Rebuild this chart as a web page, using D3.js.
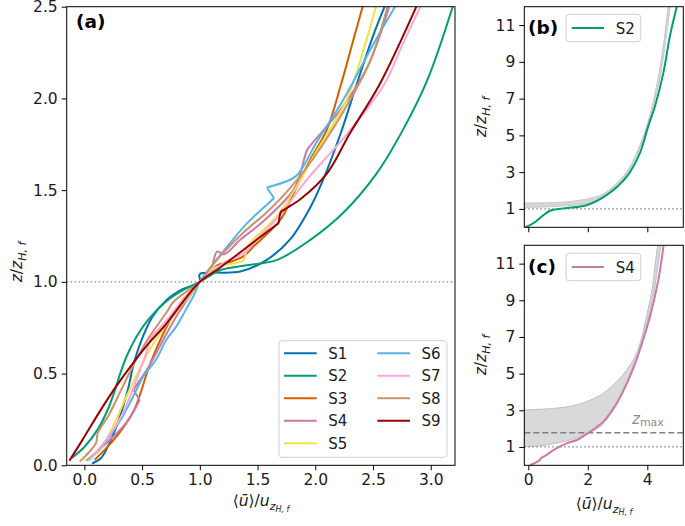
<!DOCTYPE html>
<html><head><meta charset="utf-8">
<script src="https://cdn.jsdelivr.net/npm/d3@7"></script>
<style>body{margin:0;background:#fff}svg{display:block}</style>
</head><body><svg id="c" width="685" height="526"></svg>
<script>
// ---------------- data ----------------
const seriesNames = ["S1","S2","S3","S4","S5","S6","S7","S8","S9"];
const seriesColors = ["#0072B2","#009E73","#D55E00","#CC79A7","#F0E442","#56B4E9","#FBA6DA","#C9926A","#990000"];

const s1U = [0.067,0.145,0.217,0.30,0.376,0.434,0.506,0.59,0.71,0.85,1.0,0.995,1.005,1.12,1.35,1.58,1.78,1.96,2.07,2.22,2.36,2.50,2.60];
const s1Z = [0.01,0.04,0.12,0.25,0.41,0.57,0.70,0.81,0.90,0.96,1.0,1.035,1.045,1.05,1.056,1.12,1.23,1.41,1.56,1.81,2.08,2.34,2.5];
const s2U = [-0.11,0.0,0.12,0.2,0.26,0.31,0.37,0.45,0.56,0.72,0.84,1.0,1.18,1.41,1.67,1.96,2.24,2.53,2.76,2.97,3.19];
const s2Z = [0.04,0.1,0.2,0.3,0.4,0.5,0.6,0.7,0.8,0.9,0.95,1.0,1.065,1.09,1.12,1.23,1.375,1.59,1.83,2.10,2.5];
const s3U = [0.09,0.2,0.33,0.43,0.49,0.54,0.6,0.67,0.75,0.85,1.0,1.15,1.27,1.38,1.46,1.70,1.81,1.96,2.10,2.22,2.33,2.41];
const s3Z = [0.03,0.1,0.2,0.3,0.4,0.5,0.6,0.7,0.8,0.9,1.0,1.09,1.11,1.14,1.19,1.34,1.48,1.67,1.83,2.07,2.32,2.5];
const s4U = [0.03,0.19,0.36,0.47,0.477,0.43,0.44,0.56,0.68,0.795,0.91,1.0,1.1,1.15,1.21,1.35,1.55,1.81,1.87,1.93,1.98,2.22,2.45,2.64];
const s4Z = [0.03,0.12,0.23,0.345,0.356,0.41,0.425,0.54,0.68,0.81,0.92,1.0,1.08,1.165,1.15,1.23,1.33,1.50,1.59,1.72,1.76,1.94,2.17,2.5];
const s5U = [0.0,0.13,0.275,0.35,0.46,0.565,0.68,0.79,0.90,1.0,1.12,1.38,1.41,1.67,1.84,1.98,2.27,2.42,2.525];
const s5Z = [0.025,0.08,0.25,0.356,0.50,0.63,0.74,0.83,0.92,1.0,1.075,1.12,1.19,1.36,1.52,1.68,1.99,2.27,2.5];
const s6U = [0.02,0.12,0.217,0.33,0.45,0.506,0.62,0.71,0.795,0.88,0.95,1.0,1.12,1.26,1.41,1.62,1.64,1.63,1.585,1.60,1.83,2.01,2.24,2.48,2.69];
const s6Z = [0.025,0.08,0.156,0.265,0.41,0.48,0.575,0.684,0.756,0.85,0.93,1.0,1.1,1.21,1.32,1.444,1.457,1.468,1.515,1.518,1.575,1.76,1.99,2.27,2.5];
const s7U = [0.04,0.19,0.33,0.45,0.535,0.58,0.64,0.74,0.85,1.0,1.20,1.41,1.5,1.57,1.70,1.93,2.28,2.60,2.76,2.91];
const s7Z = [0.025,0.14,0.28,0.465,0.61,0.70,0.74,0.81,0.90,1.0,1.10,1.17,1.24,1.28,1.37,1.56,1.81,2.08,2.30,2.5];
const s8U = [-0.04,0.10,0.116,0.217,0.333,0.448,0.563,0.708,0.77,0.89,1.0,1.12,1.38,1.58,1.78,1.98,2.30,2.48,2.625];
const s8Z = [0.02,0.12,0.175,0.28,0.43,0.575,0.70,0.83,0.89,0.95,1.0,1.10,1.27,1.38,1.51,1.67,1.99,2.21,2.5];
const s9U = [-0.13,-0.015,0.13,0.275,0.42,0.564,0.708,0.853,1.0,1.18,1.41,1.66,1.68,1.70,1.72,1.87,2.1,2.30,2.56,2.875];
const s9Z = [0.025,0.14,0.29,0.43,0.556,0.67,0.77,0.89,1.0,1.08,1.19,1.31,1.32,1.38,1.39,1.45,1.59,1.81,2.08,2.5];

// panel (b): S2 full profile and grey envelope
const bS2U = [-0.1,0.17,0.45,0.73,1.18,1.96,2.64,3.31,3.75,4.03,4.26,4.54,4.76,4.99];
const bS2Z = [0.0,0.22,0.58,0.9,1.03,1.2,1.76,2.76,4.04,5.49,6.6,8.4,10.4,12];
const bBandUpU = [-0.14,0.5,1.0,1.5,2.0,2.5,2.9,3.3,3.6,3.9,4.15,4.35,4.55,4.7];
const bBandUpZ = [1.32,1.33,1.36,1.42,1.55,1.8,2.3,3.0,3.9,5.1,6.5,8.0,10.0,12.1];
const bBandLoU = [-0.14,0.5,1.0,1.5,2.0,2.5,2.9,3.3,3.6,3.9,4.15,4.4,4.6,4.78];
const bBandLoZ = [1.08,1.1,1.14,1.2,1.3,1.62,2.15,2.85,3.75,4.95,6.3,7.9,9.9,12.1];

// panel (c): S4 full profile and grey envelope
const cS4U = [0.06,0.25,0.39,0.42,0.6,0.84,1.29,1.63,2.07,2.52,2.97,3.31,3.59,3.75,4.09,4.37,4.54,4.56];
const cS4Z = [0.02,0.15,0.29,0.38,0.55,0.83,1.2,1.38,1.83,2.38,3.38,4.47,5.56,6.29,8.1,10.1,11.9,12.1];
const cBandUpU = [-0.14,0.84,1.5,1.96,2.52,2.97,3.31,3.59,3.8,3.92,4.15,4.32,4.36];
const cBandUpZ = [3.02,3.1,3.25,3.47,3.93,4.56,5.2,5.93,6.9,7.75,9.5,11.7,12.1];
const cBandLoU = [-0.14,0.5,0.84,1.4,1.96,2.41,2.97,3.31,3.59,3.8,4.0,4.2,4.35,4.46];
const cBandLoZ = [1.02,1.08,1.18,1.38,1.72,2.1,3.3,4.4,5.5,6.6,7.8,9.2,10.8,12.1];
const zMax = 1.78;
const zRef = 1.0;

const aXTicks = [0,0.5,1.0,1.5,2.0,2.5,3.0];
const aYTicks = [0,0.5,1.0,1.5,2.0,2.5];
const bcXTicks = [0,2,4];
const bcYTicks = [1,3,5,7,9,11];

// ---------------- drawing ----------------
const FONT = "'DejaVu Sans', sans-serif";
const svg = d3.select("#c");
const zip = (u, z) => u.map((v, i) => [v, z[i]]);
const seriesU = [s1U,s2U,s3U,s4U,s5U,s6U,s7U,s8U,s9U];
const seriesZ = [s1Z,s2Z,s3Z,s4Z,s5Z,s6Z,s7Z,s8Z,s9Z];
const smooth = d3.curveCatmullRom.alpha(0.5);

function panel(id, box, xdom, ydom, xticks, yticks, xfmt, yfmt, showXLabels) {
  const x = d3.scaleLinear().domain(xdom).range([box.l, box.r]);
  const y = d3.scaleLinear().domain(ydom).range([box.b, box.t]);
  svg.append("defs").append("clipPath").attr("id", "clip" + id)
    .append("rect").attr("x", box.l).attr("y", box.t).attr("width", box.r - box.l).attr("height", box.b - box.t);
  const g = svg.append("g");
  const plot = g.append("g").attr("clip-path", `url(#clip${id})`);
  const xa = d3.axisBottom(x).tickValues(xticks).tickSize(5).tickPadding(4)
    .tickFormat(showXLabels ? xfmt : () => "");
  const ya = d3.axisLeft(y).tickValues(yticks).tickSize(5).tickPadding(4).tickFormat(yfmt);
  const gx = g.append("g").attr("transform", `translate(0,${box.b})`).call(xa);
  const gy = g.append("g").attr("transform", `translate(${box.l},0)`).call(ya);
  [gx, gy].forEach(a => {
    a.select(".domain").remove();
    a.selectAll("line").attr("stroke", "#000").attr("stroke-width", 1);
    a.selectAll("text").attr("font-family", FONT).attr("font-size", 15.5).attr("fill", "#1a1a1a");
  });
  return {x, y, g, plot, box};
}
function frame(p) {
  p.g.append("rect").attr("x", p.box.l).attr("y", p.box.t)
    .attr("width", p.box.r - p.box.l).attr("height", p.box.b - p.box.t)
    .attr("fill", "none").attr("stroke", "#000").attr("stroke-width", 1);
}
function hline(p, z, dash, color, w) {
  p.plot.append("line").attr("x1", p.box.l).attr("x2", p.box.r)
    .attr("y1", p.y(z)).attr("y2", p.y(z))
    .attr("stroke", color).attr("stroke-width", w).attr("stroke-dasharray", dash);
}
function curve(p, pts, color, w) {
  const line = d3.line().x(d => p.x(d[0])).y(d => p.y(d[1])).curve(smooth);
  p.plot.append("path").attr("d", line(pts)).attr("fill", "none")
    .attr("stroke", color).attr("stroke-width", w)
    .attr("stroke-linejoin", "round").attr("stroke-linecap", "butt");
}
function band(p, up, lo, fill, stroke) {
  const line = d3.line().x(d => p.x(d[0])).y(d => p.y(d[1])).curve(smooth);
  const dUp = line(up);
  const dLo = line(lo.slice().reverse()).replace(/^M/, "L");
  p.plot.append("path").attr("d", dUp + dLo + "Z").attr("fill", fill)
    .attr("stroke", stroke).attr("stroke-width", 1);
}
function legend(p, x0, y0, w, h) {
  p.g.append("rect").attr("x", x0).attr("y", y0).attr("width", w).attr("height", h)
    .attr("rx", 3).attr("fill", "#fff").attr("fill-opacity", 0.85)
    .attr("stroke", "#d0d0d0").attr("stroke-width", 1);
}
function ylabel(cx, cy) {
  const t = svg.append("text").attr("transform", `translate(${cx},${cy}) rotate(-90)`)
    .attr("text-anchor", "middle").attr("font-family", FONT).attr("font-size", 15.5).attr("fill", "#1a1a1a");
  t.append("tspan").attr("font-style", "italic").text("z");
  t.append("tspan").text("/");
  t.append("tspan").attr("font-style", "italic").text("z");
  t.append("tspan").attr("font-style", "italic").attr("font-size", 11).attr("dy", 3.5).text("H, f");
}
function xlabel(cx, cy) {
  const t = svg.append("text").attr("x", cx).attr("y", cy)
    .attr("text-anchor", "middle").attr("font-family", FONT).attr("font-size", 15.5).attr("fill", "#1a1a1a");
  t.append("tspan").text("\u27E8");
  t.append("tspan").attr("font-style", "italic").text("\u016B");
  t.append("tspan").text("\u27E9/");
  t.append("tspan").attr("font-style", "italic").text("u");
  t.append("tspan").attr("font-style", "italic").attr("font-size", 11).attr("dy", 3.5).text("z");
  t.append("tspan").attr("font-style", "italic").attr("font-size", 8).attr("dy", 2.5).text("H, f");
}
function tag(p, txt, x, y) {
  p.g.append("text").attr("x", x).attr("y", y).attr("font-family", FONT)
    .attr("font-weight", "bold").attr("font-size", 18.5).attr("fill", "#000").text(txt);
}

// ----- panel (a)
const fmt1 = d3.format(".1f");
const A = panel("a", {l: 66.7, r: 455, t: 6.7, b: 465.3}, [-0.153, 3.21], [0, 2.5],
  aXTicks, aYTicks, fmt1, fmt1, true);
hline(A, zRef, "1.5,2.5", "#808080", 1.2);
seriesNames.forEach((n, i) => curve(A, zip(seriesU[i], seriesZ[i]), seriesColors[i], 2));
frame(A);
tag(A, "(a)", 76, 28);
// legend (a)
legend(A, 279, 340.7, 168, 116.6);
seriesNames.forEach((n, i) => {
  const col = i < 5 ? 0 : 1, row = i < 5 ? i : i - 5;
  const lx = 284 + col * 93.3, ly = 353.3 + row * 22.5;
  A.g.append("line").attr("x1", lx).attr("x2", lx + 32.7).attr("y1", ly).attr("y2", ly)
    .attr("stroke", seriesColors[i]).attr("stroke-width", 2);
  A.g.append("text").attr("x", lx + 44.3).attr("y", ly + 5.5).attr("font-family", FONT)
    .attr("font-size", 15).attr("fill", "#1a1a1a").text(n);
});
ylabel(22, 262);
xlabel(261, 506);

// ----- panel (b)
const fmt0 = d3.format("d");
const B = panel("b", {l: 524.3, r: 683.3, t: 6.7, b: 227.3}, [-0.134, 5.21], [0, 12],
  bcXTicks, bcYTicks, fmt0, fmt0, false);
band(B, zip(bBandUpU, bBandUpZ), zip(bBandLoU, bBandLoZ), "#d6d6d6", "#c8c8c8");
hline(B, zRef, "1.5,2.5", "#808080", 1.2);
curve(B, zip(bS2U, bS2Z), seriesColors[1], 2);
frame(B);
tag(B, "(b)", 528, 34);
legend(B, 566, 14.3, 74.7, 27.4);
B.g.append("line").attr("x1", 571.7).attr("x2", 604).attr("y1", 28).attr("y2", 28)
  .attr("stroke", seriesColors[1]).attr("stroke-width", 2);
B.g.append("text").attr("x", 615.7).attr("y", 33.5).attr("font-family", FONT)
  .attr("font-size", 15).attr("fill", "#1a1a1a").text(seriesNames[1]);
ylabel(486, 117);

// ----- panel (c)
const C = panel("c", {l: 524.3, r: 683.3, t: 245.3, b: 465.3}, [-0.134, 5.21], [0, 12],
  bcXTicks, bcYTicks, fmt0, fmt0, true);
band(C, zip(cBandUpU, cBandUpZ), zip(cBandLoU, cBandLoZ), "#d9d9d9", "#bdbdbd");
hline(C, zRef, "1.5,2.5", "#808080", 1.2);
hline(C, zMax, "6,3", "#808080", 1.5);
curve(C, zip(cS4U, cS4Z), seriesColors[3], 2);
frame(C);
tag(C, "(c)", 528, 273);
legend(C, 566, 253.3, 74.7, 27.4);
C.g.append("line").attr("x1", 571.7).attr("x2", 604).attr("y1", 267).attr("y2", 267)
  .attr("stroke", seriesColors[3]).attr("stroke-width", 2);
C.g.append("text").attr("x", 615.7).attr("y", 272.5).attr("font-family", FONT)
  .attr("font-size", 15).attr("fill", "#1a1a1a").text(seriesNames[3]);
const zt = C.g.append("text").attr("x", 632).attr("y", C.y(zMax) - 9).attr("font-family", FONT)
  .attr("fill", "#8c8c8c").attr("font-size", 15);
zt.append("tspan").attr("font-style", "italic").text("z");
zt.append("tspan").attr("font-size", 11).attr("dy", 2.5).text("max");
ylabel(486, 355);
xlabel(604, 509);
</script></body></html>
